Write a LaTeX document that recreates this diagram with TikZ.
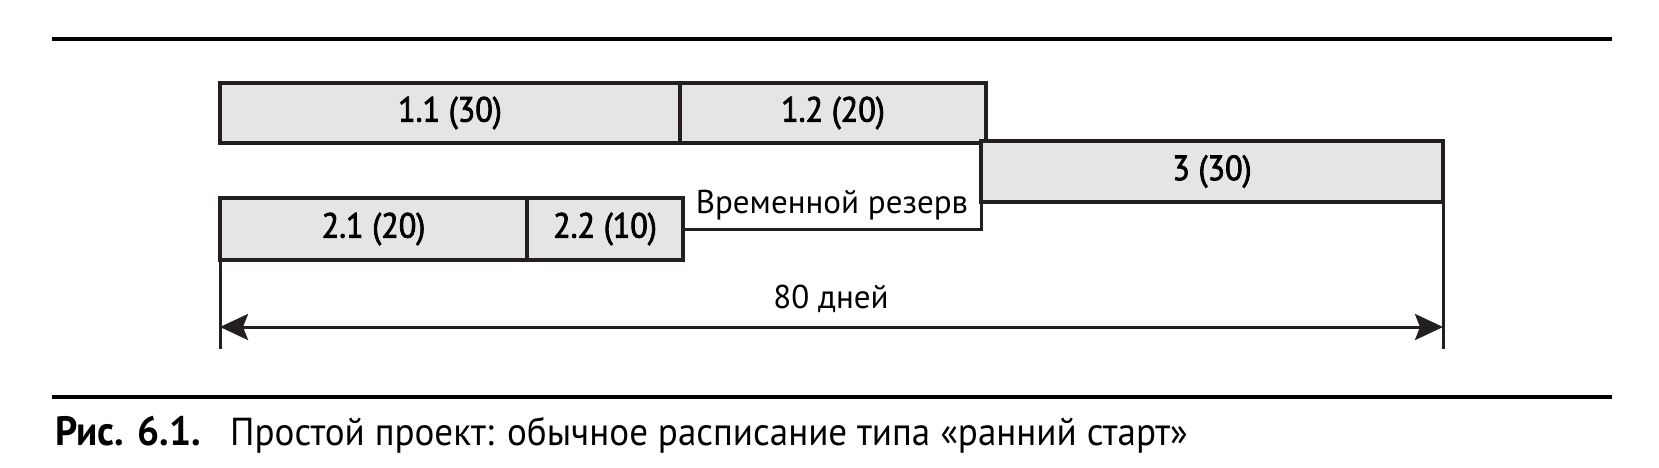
\documentclass[tikz,border=0pt]{standalone}
\usepackage{fontspec}
\setmainfont{PT Sans}
\newfontfamily\taskfont[FakeBold=2.2,FakeStretch=0.92]{PT Sans}
\newfontfamily\captionfont[FakeStretch=0.95]{PT Sans}
\usetikzlibrary{arrows.meta}

\colorlet{taskFillColour}{black!10}
\definecolor{taskLineColour}{RGB}{35,31,32}

\tikzset{
	task/.style={draw=taskLineColour,line width=3.8pt,fill=taskFillColour,inner sep=0pt,outer sep=0pt,font=\taskfont\fontsize{35}{40}\selectfont},
	span/.style={draw=taskLineColour,line width=3pt},
	rule/.style={draw=black,line width=4pt},
	note/.style={inner sep=0pt,anchor=base,font=\fontsize{33}{38}\selectfont}
}

\begin{document}
\begin{tikzpicture}[x=1pt,y=-1pt]
\useasboundingbox (0,0) rectangle (1659,467);
\draw[rule] (52,39) -- (1612,39);
\node[task,minimum width=460,minimum height=60] (task 11) at (450,113) {1.1 (30)};
\node[task,minimum width=306,minimum height=60] (task 12) at (833,113) {1.2 (20)};
\node[task,minimum width=462,minimum height=61] (task 3) at (1212,171.5) {3 (30)};
\node[task,minimum width=307,minimum height=62] (task 21) at (373.5,229) {2.1 (20)};
\node[task,minimum width=156,minimum height=62] (task 22) at (605,229) {2.2 (10)};
\draw[span] (task 22.east) -| (task 3.south west);
\node[note] (reserve) at (832,213) {Временной резерв};
\coordinate (span left) at (220,349);
\coordinate (span right) at (1443,349);
\draw[span] (task 21.south west) -- (span left);
\draw[span] (task 3.south east) -- (span right);
\draw[span,{Stealth[length=28pt,width=26pt,inset=5pt]}-{Stealth[length=28pt,width=26pt,inset=5pt]}] (220,327) -- (1443,327);
\node[note] (duration) at (831,308) {80 дней};
\draw[rule] (52,397) -- (1612,397);
\node[anchor=base west,inner sep=0pt,font=\captionfont\bfseries\fontsize{41}{46}\selectfont] (caption number) at (55,445) {Рис. 6.1.};
\node[anchor=base west,inner sep=0pt,font=\captionfont\fontsize{39}{44}\selectfont] (caption text) at (230,445) {Простой проект: обычное расписание типа «ранний старт»};
\end{tikzpicture}
\end{document}
